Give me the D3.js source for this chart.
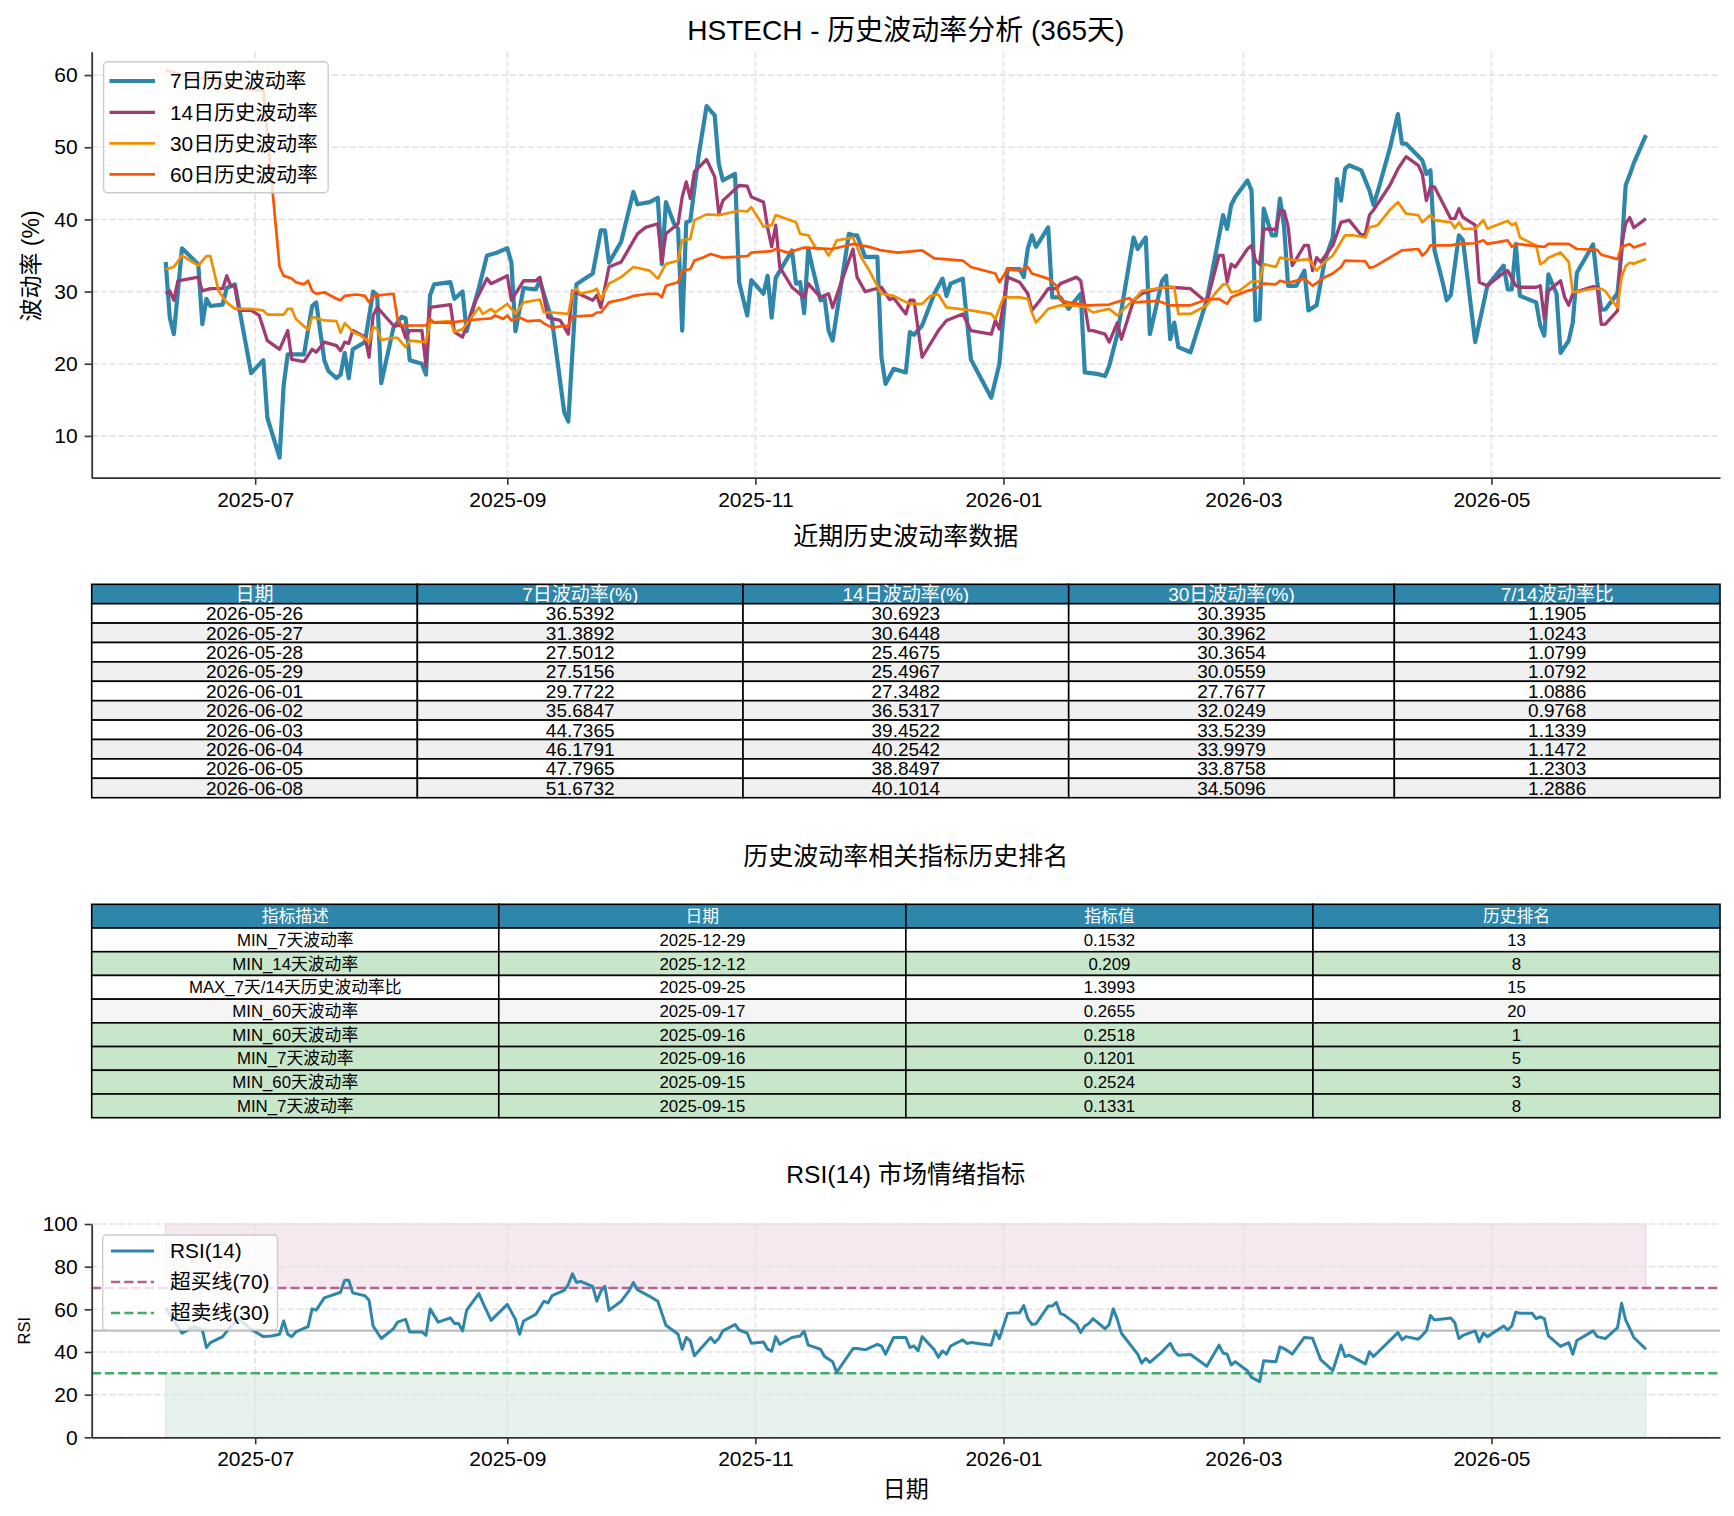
<!DOCTYPE html>
<html><head><meta charset="utf-8">
<script src="https://cdn.jsdelivr.net/npm/d3@7"></script>
<style>body{margin:0;background:#fff}svg{display:block}</style>
</head><body>
<svg id="chart" width="1734" height="1516"></svg>
<script>
// ---------------- DATA ----------------
const vol7 = [["2025-06-09",34.1],["2025-06-10",26.4],["2025-06-11",24.1],["2025-06-13",36.0],["2025-06-17",33.8],["2025-06-18",25.5],["2025-06-19",29.0],["2025-06-20",28.0],["2025-06-23",28.2],["2025-06-24",30.5],["2025-06-26",31.0],["2025-06-30",18.7],["2025-07-03",20.5],["2025-07-04",12.5],["2025-07-07",7.0],["2025-07-08",17.0],["2025-07-09",21.3],["2025-07-13",21.3],["2025-07-15",28.0],["2025-07-16",28.5],["2025-07-18",20.5],["2025-07-19",19.0],["2025-07-21",18.0],["2025-07-22",18.5],["2025-07-23",21.5],["2025-07-24",18.0],["2025-07-25",22.0],["2025-07-28",23.0],["2025-07-30",30.0],["2025-07-31",29.5],["2025-08-01",17.3],["2025-08-04",25.0],["2025-08-06",26.5],["2025-08-07",26.3],["2025-08-08",20.5],["2025-08-11",20.0],["2025-08-12",18.5],["2025-08-13",29.5],["2025-08-14",31.0],["2025-08-18",31.3],["2025-08-19",29.0],["2025-08-21",30.0],["2025-08-22",24.5],["2025-08-25",30.5],["2025-08-27",35.0],["2025-08-29",35.3],["2025-09-01",36.0],["2025-09-02",34.0],["2025-09-03",24.5],["2025-09-05",30.5],["2025-09-08",30.3],["2025-09-09",31.5],["2025-09-12",26.0],["2025-09-15",13.3],["2025-09-16",12.0],["2025-09-18",31.0],["2025-09-22",32.5],["2025-09-24",38.5],["2025-09-25",38.5],["2025-09-26",34.0],["2025-09-29",36.9],["2025-10-02",43.8],["2025-10-03",42.1],["2025-10-06",42.4],["2025-10-08",43.0],["2025-10-09",33.8],["2025-10-10",42.4],["2025-10-12",39.4],["2025-10-13",38.7],["2025-10-14",24.6],["2025-10-15",39.6],["2025-10-16",39.8],["2025-10-18",48.7],["2025-10-20",55.7],["2025-10-22",54.4],["2025-10-23",47.7],["2025-10-24",45.4],["2025-10-27",46.3],["2025-10-28",31.3],["2025-10-30",26.7],["2025-10-31",31.6],["2025-11-03",29.7],["2025-11-04",32.2],["2025-11-05",26.4],["2025-11-06",31.9],["2025-11-10",35.7],["2025-11-11",31.1],["2025-11-12",31.3],["2025-11-13",27.0],["2025-11-14",36.0],["2025-11-15",33.4],["2025-11-17",28.8],["2025-11-18",29.2],["2025-11-19",24.6],["2025-11-20",23.2],["2025-11-24",38.0],["2025-11-25",37.8],["2025-11-26",37.8],["2025-11-28",34.8],["2025-12-01",34.8],["2025-12-02",20.9],["2025-12-03",17.2],["2025-12-05",19.3],["2025-12-08",18.8],["2025-12-09",24.4],["2025-12-10",24.0],["2025-12-12",25.3],["2025-12-15",29.7],["2025-12-17",31.8],["2025-12-18",29.4],["2025-12-19",31.1],["2025-12-22",31.8],["2025-12-24",20.6],["2025-12-29",15.3],["2025-12-31",20.0],["2026-01-02",33.1],["2026-01-05",33.1],["2026-01-06",32.0],["2026-01-07",36.0],["2026-01-08",37.8],["2026-01-09",36.2],["2026-01-12",38.9],["2026-01-13",29.2],["2026-01-15",29.2],["2026-01-17",27.6],["2026-01-20",29.7],["2026-01-21",18.8],["2026-01-24",18.6],["2026-01-26",18.3],["2026-01-27",19.7],["2026-01-29",24.1],["2026-02-02",37.5],["2026-02-03",35.9],["2026-02-05",37.5],["2026-02-06",24.1],["2026-02-09",31.5],["2026-02-10",32.2],["2026-02-11",23.4],["2026-02-12",25.7],["2026-02-13",22.3],["2026-02-16",21.6],["2026-02-20",28.8],["2026-02-24",40.6],["2026-02-25",38.7],["2026-02-26",42.0],["2026-02-27",43.1],["2026-03-02",45.4],["2026-03-03",44.0],["2026-03-04",26.0],["2026-03-05",26.2],["2026-03-06",41.5],["2026-03-08",37.8],["2026-03-09",37.8],["2026-03-10",42.9],["2026-03-11",39.0],["2026-03-12",30.8],["2026-03-14",30.8],["2026-03-16",32.9],["2026-03-17",27.4],["2026-03-19",28.1],["2026-03-21",34.3],["2026-03-23",37.5],["2026-03-24",45.6],["2026-03-25",42.6],["2026-03-26",47.0],["2026-03-27",47.5],["2026-03-30",46.8],["2026-04-01",44.0],["2026-04-02",42.0],["2026-04-03",43.8],["2026-04-06",49.8],["2026-04-08",54.6],["2026-04-09",50.5],["2026-04-10",50.5],["2026-04-14",48.2],["2026-04-15",46.3],["2026-04-16",46.8],["2026-04-17",35.7],["2026-04-19",31.3],["2026-04-20",28.8],["2026-04-21",29.5],["2026-04-23",37.8],["2026-04-24",37.1],["2026-04-27",23.0],["2026-04-30",30.8],["2026-05-04",33.6],["2026-05-05",30.3],["2026-05-06",30.3],["2026-05-07",36.6],["2026-05-08",29.4],["2026-05-12",28.5],["2026-05-13",25.3],["2026-05-14",23.9],["2026-05-15",32.4],["2026-05-17",29.7],["2026-05-18",21.5],["2026-05-20",23.2],["2026-05-21",25.7],["2026-05-22",32.6],["2026-05-26",36.5392],["2026-05-27",31.3892],["2026-05-28",27.5012],["2026-05-29",27.5156],["2026-06-01",29.7722],["2026-06-02",35.6847],["2026-06-03",44.7365],["2026-06-04",46.1791],["2026-06-05",47.7965],["2026-06-08",51.6732]];

const vol14 = [["2025-06-09",29.7],["2025-06-10",30.1],["2025-06-11",28.8],["2025-06-12",31.5],["2025-06-17",32.0],["2025-06-18",30.1],["2025-06-20",30.4],["2025-06-23",30.4],["2025-06-24",32.2],["2025-06-25",30.8],["2025-06-26",30.8],["2025-06-27",27.4],["2025-06-30",27.4],["2025-07-02",26.7],["2025-07-04",23.2],["2025-07-07",22.0],["2025-07-09",24.6],["2025-07-10",20.6],["2025-07-13",20.3],["2025-07-15",22.0],["2025-07-16",21.6],["2025-07-18",23.0],["2025-07-21",22.5],["2025-07-22",21.8],["2025-07-23",23.0],["2025-07-24",22.8],["2025-07-25",24.6],["2025-07-28",23.7],["2025-07-29",20.9],["2025-07-30",26.7],["2025-07-31",27.8],["2025-08-04",25.3],["2025-08-06",25.3],["2025-08-07",23.6],["2025-08-08",24.6],["2025-08-11",24.6],["2025-08-12",19.7],["2025-08-13",27.8],["2025-08-18",28.2],["2025-08-19",24.4],["2025-08-21",23.7],["2025-08-24",28.5],["2025-08-27",31.8],["2025-08-28",31.1],["2025-09-01",32.2],["2025-09-02",28.8],["2025-09-05",31.5],["2025-09-08",31.5],["2025-09-09",32.0],["2025-09-11",26.4],["2025-09-14",26.0],["2025-09-16",24.1],["2025-09-17",30.1],["2025-09-22",28.8],["2025-09-23",29.5],["2025-09-24",27.8],["2025-09-26",33.4],["2025-09-29",34.1],["2025-10-03",38.0],["2025-10-05",38.9],["2025-10-08",39.4],["2025-10-09",34.1],["2025-10-10",38.0],["2025-10-13",39.4],["2025-10-14",43.1],["2025-10-15",45.2],["2025-10-16",42.9],["2025-10-17",46.6],["2025-10-20",48.3],["2025-10-22",45.9],["2025-10-23",40.8],["2025-10-24",42.6],["2025-10-28",44.7],["2025-10-30",44.6],["2025-10-31",43.1],["2025-11-03",42.4],["2025-11-04",38.9],["2025-11-05",36.2],["2025-11-06",39.2],["2025-11-07",33.4],["2025-11-10",30.6],["2025-11-13",29.2],["2025-11-14",31.1],["2025-11-17",29.2],["2025-11-19",29.7],["2025-11-20",27.8],["2025-11-22",31.1],["2025-11-25",35.9],["2025-11-26",32.0],["2025-11-28",30.0],["2025-12-02",30.6],["2025-12-04",28.9],["2025-12-05",29.1],["2025-12-08",26.9],["2025-12-09",28.8],["2025-12-10",28.8],["2025-12-12",20.9],["2025-12-16",24.6],["2025-12-18",26.0],["2025-12-22",26.9],["2025-12-24",24.6],["2025-12-29",24.1],["2025-12-30",26.0],["2025-12-31",24.8],["2026-01-02",32.0],["2026-01-05",31.3],["2026-01-07",29.7],["2026-01-08",27.4],["2026-01-10",28.8],["2026-01-12",30.4],["2026-01-14",30.4],["2026-01-15",31.1],["2026-01-19",32.0],["2026-01-20",31.5],["2026-01-22",24.6],["2026-01-23",24.6],["2026-01-26",24.1],["2026-01-27",23.0],["2026-01-29",25.7],["2026-01-30",23.4],["2026-02-02",28.8],["2026-02-04",29.7],["2026-02-09",30.6],["2026-02-11",30.6],["2026-02-16",30.4],["2026-02-20",28.5],["2026-02-23",35.0],["2026-02-24",35.0],["2026-02-25",31.3],["2026-02-26",33.8],["2026-02-27",33.4],["2026-03-02",35.9],["2026-03-03",36.4],["2026-03-04",34.3],["2026-03-05",33.8],["2026-03-06",38.7],["2026-03-09",38.6],["2026-03-10",41.3],["2026-03-11",41.2],["2026-03-12",39.0],["2026-03-13",33.6],["2026-03-14",34.5],["2026-03-16",36.4],["2026-03-17",36.4],["2026-03-18",32.9],["2026-03-19",34.7],["2026-03-20",34.1],["2026-03-23",36.4],["2026-03-25",39.6],["2026-03-27",39.9],["2026-03-30",37.8],["2026-03-31",38.0],["2026-04-01",40.6],["2026-04-02",41.3],["2026-04-06",44.7],["2026-04-08",47.0],["2026-04-10",48.7],["2026-04-13",47.5],["2026-04-14",46.3],["2026-04-15",42.6],["2026-04-16",44.5],["2026-04-17",44.5],["2026-04-21",40.1],["2026-04-22",40.1],["2026-04-23",41.5],["2026-04-24",40.3],["2026-04-27",39.2],["2026-04-28",31.3],["2026-04-30",30.8],["2026-05-04",32.6],["2026-05-05",32.9],["2026-05-07",30.8],["2026-05-08",30.6],["2026-05-12",30.6],["2026-05-13",30.8],["2026-05-14",26.2],["2026-05-15",30.1],["2026-05-18",31.5],["2026-05-19",29.2],["2026-05-20",28.1],["2026-05-21",29.7],["2026-05-22",30.0],["2026-05-26",30.6923],["2026-05-27",30.6448],["2026-05-28",25.4675],["2026-05-29",25.4967],["2026-06-01",27.3482],["2026-06-02",36.5317],["2026-06-03",39.4522],["2026-06-04",40.2542],["2026-06-05",38.8497],["2026-06-08",40.1014]];

const vol30 = [["2025-06-09",33.1],["2025-06-11",33.4],["2025-06-13",35.0],["2025-06-17",33.6],["2025-06-19",34.9],["2025-06-20",34.9],["2025-06-22",30.1],["2025-06-24",28.5],["2025-06-26",27.6],["2025-06-30",27.6],["2025-07-03",27.4],["2025-07-04",26.8],["2025-07-08",26.8],["2025-07-09",27.6],["2025-07-10",27.6],["2025-07-11",26.2],["2025-07-14",24.7],["2025-07-15",26.5],["2025-07-18",26.0],["2025-07-21",25.9],["2025-07-22",24.3],["2025-07-23",25.6],["2025-07-24",25.1],["2025-07-25",24.4],["2025-07-27",23.9],["2025-07-29",23.0],["2025-07-30",25.1],["2025-07-31",24.8],["2025-08-01",23.3],["2025-08-04",23.6],["2025-08-05",23.6],["2025-08-07",22.3],["2025-08-08",23.2],["2025-08-12",23.0],["2025-08-13",25.7],["2025-08-18",25.9],["2025-08-19",24.4],["2025-08-21",24.8],["2025-08-25",27.8],["2025-08-26",26.9],["2025-08-28",27.6],["2025-08-29",27.1],["2025-09-01",28.3],["2025-09-03",26.9],["2025-09-05",28.5],["2025-09-09",28.9],["2025-09-10",27.1],["2025-09-12",27.1],["2025-09-16",26.9],["2025-09-17",29.9],["2025-09-18",30.4],["2025-09-19",29.7],["2025-09-22",30.1],["2025-09-23",30.4],["2025-09-24",28.9],["2025-09-26",31.1],["2025-09-29",32.0],["2025-10-02",33.4],["2025-10-06",32.9],["2025-10-08",31.8],["2025-10-10",33.8],["2025-10-13",34.3],["2025-10-14",37.1],["2025-10-16",37.3],["2025-10-17",39.9],["2025-10-20",40.7],["2025-10-23",40.6],["2025-10-28",41.2],["2025-10-30",41.1],["2025-10-31",41.7],["2025-11-03",39.0],["2025-11-05",39.2],["2025-11-06",40.6],["2025-11-11",39.6],["2025-11-12",38.0],["2025-11-14",37.8],["2025-11-16",35.9],["2025-11-18",35.9],["2025-11-19",35.0],["2025-11-20",35.9],["2025-11-21",37.1],["2025-11-25",37.5],["2025-11-27",34.8],["2025-11-29",32.9],["2025-12-02",29.7],["2025-12-05",29.4],["2025-12-09",28.3],["2025-12-12",28.3],["2025-12-14",29.4],["2025-12-16",29.6],["2025-12-18",27.8],["2025-12-24",27.4],["2025-12-29",26.9],["2025-12-30",26.2],["2026-01-01",29.2],["2026-01-05",29.2],["2026-01-07",29.0],["2026-01-08",27.1],["2026-01-09",25.7],["2026-01-12",27.6],["2026-01-15",28.1],["2026-01-18",28.1],["2026-01-21",27.9],["2026-01-23",27.1],["2026-01-27",27.6],["2026-01-29",26.7],["2026-02-03",29.4],["2026-02-04",30.1],["2026-02-10",30.6],["2026-02-12",30.6],["2026-02-13",26.9],["2026-02-16",26.9],["2026-02-20",28.1],["2026-02-22",29.7],["2026-02-24",31.0],["2026-02-25",31.0],["2026-02-26",29.9],["2026-02-28",30.1],["2026-03-03",31.4],["2026-03-05",31.4],["2026-03-06",33.8],["2026-03-09",33.4],["2026-03-10",34.7],["2026-03-12",34.5],["2026-03-14",34.3],["2026-03-17",34.5],["2026-03-18",33.8],["2026-03-19",32.9],["2026-03-21",34.1],["2026-03-23",35.0],["2026-03-26",37.8],["2026-03-28",37.8],["2026-03-31",37.5],["2026-04-01",38.9],["2026-04-03",39.2],["2026-04-06",41.3],["2026-04-08",42.4],["2026-04-10",40.8],["2026-04-13",40.6],["2026-04-14",39.6],["2026-04-16",40.6],["2026-04-17",39.9],["2026-04-21",39.6],["2026-04-22",38.8],["2026-04-23",39.6],["2026-04-24",38.7],["2026-04-27",38.7],["2026-04-29",39.9],["2026-04-30",38.7],["2026-05-05",39.8],["2026-05-06",39.2],["2026-05-07",39.5],["2026-05-08",37.5],["2026-05-12",36.4],["2026-05-13",33.8],["2026-05-14",34.1],["2026-05-15",34.7],["2026-05-18",35.4],["2026-05-20",34.1],["2026-05-21",29.9],["2026-05-22",30.0],["2026-05-26",30.3935],["2026-05-27",30.3962],["2026-05-28",30.3654],["2026-05-29",30.0559],["2026-06-01",27.7677],["2026-06-02",32.0249],["2026-06-03",33.5239],["2026-06-04",33.9979],["2026-06-05",33.8758],["2026-06-08",34.5096]];

const vol60 = [["2025-06-09",60.7],["2025-06-10",60.5],["2025-06-13",60.1],["2025-06-17",59.7],["2025-06-22",59.1],["2025-06-24",58.3],["2025-07-03",57.8],["2025-07-07",33.4],["2025-07-08",32.2],["2025-07-10",31.8],["2025-07-11",31.3],["2025-07-13",31.0],["2025-07-14",31.5],["2025-07-15",30.1],["2025-07-16",29.7],["2025-07-18",29.9],["2025-07-21",29.0],["2025-07-22",28.8],["2025-07-23",29.4],["2025-07-26",29.6],["2025-07-28",29.4],["2025-07-29",28.5],["2025-07-30",29.4],["2025-08-04",29.7],["2025-08-05",26.2],["2025-08-06",25.3],["2025-08-12",25.3],["2025-08-13",26.2],["2025-08-14",25.7],["2025-08-18",25.7],["2025-08-22",26.0],["2025-08-26",26.2],["2025-08-28",26.3],["2025-08-29",26.7],["2025-08-31",26.2],["2025-09-01",26.7],["2025-09-02",26.0],["2025-09-04",26.4],["2025-09-06",25.9],["2025-09-09",26.0],["2025-09-10",25.6],["2025-09-12",25.0],["2025-09-15",25.24],["2025-09-16",25.18],["2025-09-17",26.55],["2025-09-22",26.7],["2025-09-23",27.1],["2025-09-24",27.1],["2025-09-26",28.5],["2025-09-30",29.0],["2025-10-02",29.4],["2025-10-06",29.7],["2025-10-08",29.7],["2025-10-09",29.2],["2025-10-10",30.8],["2025-10-13",31.3],["2025-10-14",32.9],["2025-10-16",33.1],["2025-10-17",34.3],["2025-10-19",34.7],["2025-10-21",35.2],["2025-10-24",34.7],["2025-10-30",34.9],["2025-10-31",35.4],["2025-11-05",35.6],["2025-11-06",35.9],["2025-11-09",35.4],["2025-11-13",36.1],["2025-11-20",35.9],["2025-11-25",36.6],["2025-11-29",36.2],["2025-12-02",35.7],["2025-12-06",35.4],["2025-12-12",35.7],["2025-12-15",34.6],["2025-12-22",34.3],["2025-12-24",33.4],["2025-12-30",32.5],["2025-12-31",31.3],["2026-01-02",33.1],["2026-01-05",32.9],["2026-01-07",33.4],["2026-01-08",32.5],["2026-01-12",31.8],["2026-01-14",30.8],["2026-01-15",28.8],["2026-01-17",28.5],["2026-01-22",28.1],["2026-01-27",28.2],["2026-02-01",29.1],["2026-02-02",28.5],["2026-02-08",28.7],["2026-02-11",28.1],["2026-02-16",28.1],["2026-02-20",28.9],["2026-02-23",29.0],["2026-02-25",28.3],["2026-02-26",29.2],["2026-03-02",30.1],["2026-03-04",30.4],["2026-03-06",31.1],["2026-03-09",31.0],["2026-03-10",31.5],["2026-03-12",31.2],["2026-03-16",31.8],["2026-03-18",30.8],["2026-03-21",32.0],["2026-03-23",32.5],["2026-03-25",33.4],["2026-03-26",34.3],["2026-03-31",34.2],["2026-04-01",33.3],["2026-04-02",33.4],["2026-04-09",35.7],["2026-04-13",35.9],["2026-04-14",35.0],["2026-04-15",35.5],["2026-04-16",36.4],["2026-04-21",36.4],["2026-04-23",36.6],["2026-04-27",36.7],["2026-04-29",37.1],["2026-04-30",36.6],["2026-05-05",37.1],["2026-05-06",36.2],["2026-05-07",36.6],["2026-05-14",36.2],["2026-05-15",36.6],["2026-05-20",36.6],["2026-05-22",35.9],["2026-05-27",35.8],["2026-05-28",35.1],["2026-06-01",34.5],["2026-06-02",36.2],["2026-06-04",36.6],["2026-06-05",36.1],["2026-06-08",36.7]];

const rsi14 = [["2025-06-09",60.7],["2025-06-13",48.8],["2025-06-16",51.9],["2025-06-18",50.5],["2025-06-19",42.1],["2025-06-20",44.4],["2025-06-23",47.2],["2025-06-25",52.0],["2025-06-27",55.5],["2025-06-30",50.6],["2025-07-03",47.2],["2025-07-05",47.5],["2025-07-07",48.3],["2025-07-08",54.5],["2025-07-09",48.3],["2025-07-10",47.2],["2025-07-11",49.4],["2025-07-14",51.9],["2025-07-15",60.2],["2025-07-16",59.6],["2025-07-18",65.4],["2025-07-22",68.0],["2025-07-23",73.6],["2025-07-24",73.6],["2025-07-25",67.7],["2025-07-28",66.4],["2025-07-29",64.3],["2025-07-30",52.2],["2025-08-01",46.3],["2025-08-04",50.9],["2025-08-05",54.0],["2025-08-07",55.3],["2025-08-08",49.4],["2025-08-11",49.4],["2025-08-12",47.8],["2025-08-13",60.2],["2025-08-15",54.0],["2025-08-18",56.0],["2025-08-19",53.4],["2025-08-20",53.4],["2025-08-21",49.9],["2025-08-22",59.6],["2025-08-25",67.4],["2025-08-26",63.0],["2025-08-28",54.8],["2025-09-01",62.3],["2025-09-03",55.3],["2025-09-04",48.3],["2025-09-05",54.5],["2025-09-08",57.6],["2025-09-10",63.8],["2025-09-11",63.0],["2025-09-12",66.4],["2025-09-15",68.9],["2025-09-16",71.6],["2025-09-17",76.7],["2025-09-18",72.6],["2025-09-19",73.1],["2025-09-22",70.8],["2025-09-23",63.8],["2025-09-24",68.5],["2025-09-25",70.8],["2025-09-26",59.6],["2025-09-29",63.8],["2025-10-01",68.9],["2025-10-02",72.6],["2025-10-03",69.2],["2025-10-06",66.1],["2025-10-08",63.8],["2025-10-10",52.5],["2025-10-13",48.3],["2025-10-14",41.3],["2025-10-15",46.8],["2025-10-16",45.2],["2025-10-17",38.2],["2025-10-21",46.8],["2025-10-22",44.4],["2025-10-23",46.3],["2025-10-24",49.9],["2025-10-27",52.9],["2025-10-28",50.3],["2025-10-30",48.8],["2025-10-31",44.1],["2025-11-03",44.7],["2025-11-04",41.3],["2025-11-05",40.4],["2025-11-06",47.2],["2025-11-07",43.6],["2025-11-10",46.8],["2025-11-12",47.5],["2025-11-13",49.7],["2025-11-14",43.2],["2025-11-17",41.3],["2025-11-18",37.9],["2025-11-20",35.4],["2025-11-21",30.5],["2025-11-25",41.6],["2025-11-26",41.6],["2025-11-28",41.0],["2025-12-01",43.6],["2025-12-02",42.8],["2025-12-03",39.0],["2025-12-05",46.8],["2025-12-08",46.8],["2025-12-09",42.1],["2025-12-10",42.8],["2025-12-11",40.5],["2025-12-12",47.2],["2025-12-15",41.0],["2025-12-16",37.5],["2025-12-17",40.5],["2025-12-18",39.0],["2025-12-19",42.8],["2025-12-22",45.7],["2025-12-23",44.0],["2025-12-24",44.4],["2025-12-29",43.2],["2025-12-30",49.9],["2025-12-31",46.3],["2026-01-02",58.1],["2026-01-05",58.4],["2026-01-06",61.8],["2026-01-07",55.6],["2026-01-08",52.9],["2026-01-09",53.2],["2026-01-12",61.5],["2026-01-13",61.5],["2026-01-14",63.3],["2026-01-15",58.1],["2026-01-16",57.3],["2026-01-19",52.9],["2026-01-20",49.1],["2026-01-21",52.2],["2026-01-22",53.4],["2026-01-23",55.6],["2026-01-26",50.9],["2026-01-27",52.9],["2026-01-28",60.2],["2026-01-29",55.3],["2026-01-30",48.8],["2026-02-03",39.0],["2026-02-04",34.8],["2026-02-05",37.0],["2026-02-06",35.1],["2026-02-09",40.1],["2026-02-11",44.1],["2026-02-12",40.5],["2026-02-13",38.5],["2026-02-16",38.8],["2026-02-20",33.3],["2026-02-23",43.2],["2026-02-24",39.5],["2026-02-25",39.0],["2026-02-26",33.9],["2026-02-27",35.4],["2026-03-02",31.2],["2026-03-03",28.1],["2026-03-05",26.1],["2026-03-06",35.9],["2026-03-09",35.4],["2026-03-10",42.4],["2026-03-11",41.6],["2026-03-13",39.0],["2026-03-16",46.8],["2026-03-18",46.4],["2026-03-20",36.4],["2026-03-23",31.3],["2026-03-25",43.2],["2026-03-26",37.9],["2026-03-27",38.5],["2026-03-31",34.4],["2026-04-01",40.1],["2026-04-02",37.9],["2026-04-08",49.1],["2026-04-09",45.7],["2026-04-10",47.2],["2026-04-13",46.0],["2026-04-14",47.8],["2026-04-15",49.9],["2026-04-16",57.1],["2026-04-17",55.0],["2026-04-21",55.9],["2026-04-22",53.7],["2026-04-23",46.3],["2026-04-24",47.8],["2026-04-27",49.9],["2026-04-28",44.7],["2026-04-29",48.8],["2026-04-30",47.2],["2026-05-04",52.2],["2026-05-05",50.3],["2026-05-06",52.2],["2026-05-07",58.7],["2026-05-08",58.1],["2026-05-11",58.1],["2026-05-12",55.6],["2026-05-13",56.5],["2026-05-14",55.6],["2026-05-15",47.5],["2026-05-18",42.6],["2026-05-20",44.4],["2026-05-21",38.9],["2026-05-22",45.4],["2026-05-26",49.9],["2026-05-27",47.2],["2026-05-29",46.3],["2026-06-01",51.4],["2026-06-02",62.8],["2026-06-03",55.0],["2026-06-04",51.0],["2026-06-05",46.8],["2026-06-08",41.3]];

const xTickLabels = ["2025-07","2025-09","2025-11","2026-01","2026-03","2026-05"];
const volYTicks = [10,20,30,40,50,60];
const rsiYTicks = [0,20,40,60,80,100];
const seriesNames = ["7日历史波动率","14日历史波动率","30日历史波动率","60日历史波动率"];

const recentHeader = ["日期","7日波动率(%)","14日波动率(%)","30日波动率(%)","7/14波动率比"];
const recentDates = ["2026-05-26","2026-05-27","2026-05-28","2026-05-29","2026-06-01","2026-06-02","2026-06-03","2026-06-04","2026-06-05","2026-06-08"];
const recent7 = ["36.5392","31.3892","27.5012","27.5156","29.7722","35.6847","44.7365","46.1791","47.7965","51.6732"];
const recent14 = ["30.6923","30.6448","25.4675","25.4967","27.3482","36.5317","39.4522","40.2542","38.8497","40.1014"];
const recent30 = ["30.3935","30.3962","30.3654","30.0559","27.7677","32.0249","33.5239","33.9979","33.8758","34.5096"];
const recentRatio = ["1.1905","1.0243","1.0799","1.0792","1.0886","0.9768","1.1339","1.1472","1.2303","1.2886"];

const rankHeader = ["指标描述","日期","指标值","历史排名"];
const rankDesc = ["MIN_7天波动率","MIN_14天波动率","MAX_7天/14天历史波动率比","MIN_60天波动率","MIN_60天波动率","MIN_7天波动率","MIN_60天波动率","MIN_7天波动率"];
const rankDate = ["2025-12-29","2025-12-12","2025-09-25","2025-09-17","2025-09-16","2025-09-16","2025-09-15","2025-09-15"];
const rankValue = ["0.1532","0.209","1.3993","0.2655","0.2518","0.1201","0.2524","0.1331"];
const rankPos = [13,8,15,20,1,5,3,8];

// ---------------- STYLE / LAYOUT ----------------
const FONT = "'Liberation Sans','Noto Sans CJK SC',sans-serif";
const C7 = "#2E86AB", C14 = "#A23B72", C30 = "#F18F01", C60 = "#FF5400";
const L = 91.7, R = 1720;
const ax1 = {top:51.7, bottom:477.7};
const tb1 = {top:584.3, bottom:797.7};
const tb2 = {top:904.3, bottom:1117.7};
const ax4 = {top:1224, bottom:1437.3};
const CX = (L+R)/2;

const svg = d3.select("#chart").style("font-family", FONT);
svg.append("rect").attr("width",1734).attr("height",1516).attr("fill","#fff");
const parse = d3.timeParse("%Y-%m-%d");
const parseM = d3.timeParse("%Y-%m");

const t0 = parse(vol7[0][0]), t1 = parse(vol7[vol7.length-1][0]);
const pad = (t1 - t0) * 0.05;
const x = d3.scaleTime().domain([new Date(+t0 - pad), new Date(+t1 + pad)]).range([L, R]);
const xTicks = xTickLabels.map(parseM);

function styleAxis(g){
  g.selectAll(".domain").attr("stroke","#333").attr("stroke-width",1.8);
  g.selectAll(".tick line").attr("stroke","#333").attr("stroke-width",1.6);
  g.selectAll(".tick text").attr("fill","#000").style("font-family",FONT).style("font-size","21px");
}
function grid(g, yScale, yTicks, top, bottom){
  g.selectAll(null).data(yTicks).enter().append("line")
    .attr("x1",L).attr("x2",R).attr("y1",d=>yScale(d)).attr("y2",d=>yScale(d))
    .attr("stroke","#e3e3e3").attr("stroke-width",1.6).attr("stroke-dasharray","6.2,2.7");
  g.selectAll(null).data(xTicks).enter().append("line")
    .attr("x1",d=>x(d)).attr("x2",d=>x(d)).attr("y1",top).attr("y2",bottom)
    .attr("stroke","#e3e3e3").attr("stroke-width",1.6).attr("stroke-dasharray","6.2,2.7");
}
function line(g, data, yScale, color, w, dash){
  const p = g.append("path").datum(data)
    .attr("d", d3.line().x(d=>x(parse(d[0]))).y(d=>yScale(d[1])))
    .attr("fill","none").attr("stroke",color).attr("stroke-width",w)
    .attr("stroke-linejoin","round");
  if(dash) p.attr("stroke-dasharray",dash);
  return p;
}

// ---------------- TOP CHART ----------------
svg.append("text").attr("x",CX).attr("y",40).attr("text-anchor","middle")
  .style("font-size","28px").text("HSTECH - 历史波动率分析 (365天)");

const y1 = d3.scaleLinear().domain([4.21, 63.24]).range([ax1.bottom, ax1.top]);
const g1 = svg.append("g");
grid(g1, y1, volYTicks, ax1.top, ax1.bottom);
line(g1, vol7, y1, C7, 4.2);
line(g1, vol14, y1, C14, 3.3);
line(g1, vol30, y1, C30, 2.7);
line(g1, vol60, y1, C60, 2.7);

const gx1 = svg.append("g").attr("transform",`translate(0,${ax1.bottom})`)
  .call(d3.axisBottom(x).tickValues(xTicks).tickFormat(d3.timeFormat("%Y-%m")).tickSize(7).tickSizeOuter(0).tickPadding(7));
styleAxis(gx1);
const gy1 = svg.append("g").attr("transform",`translate(${L},0)`)
  .call(d3.axisLeft(y1).tickValues(volYTicks).tickSize(7).tickSizeOuter(0).tickPadding(7));
styleAxis(gy1);
svg.append("text").attr("transform","translate(39,266) rotate(-90)").attr("text-anchor","middle")
  .style("font-size","23px").text("波动率 (%)");

// legend
const lg1 = svg.append("g");
lg1.append("rect").attr("x",103.6).attr("y",61.7).attr("width",224.6).attr("height",131).attr("rx",4)
  .attr("fill","#fff").attr("fill-opacity",0.8).attr("stroke","#cccccc").attr("stroke-width",1.4);
const legItems = [[seriesNames[0],C7,4.2],[seriesNames[1],C14,3.3],[seriesNames[2],C30,2.7],[seriesNames[3],C60,2.7]];
const legY = [81,112.3,143.3,174.3];
legItems.forEach((it,i)=>{
  lg1.append("line").attr("x1",109.5).attr("x2",155).attr("y1",legY[i]).attr("y2",legY[i])
    .attr("stroke",it[1]).attr("stroke-width",it[2]);
  lg1.append("text").attr("x",170).attr("y",legY[i]+7.3).style("font-size","20.8px").text(it[0]);
});

// ---------------- TABLES ----------------
function drawTable(box, header, rows, fills, fontSize){
  const ncol = header.length, nrow = rows.length + 1;
  const cw = (R - L) / ncol, rh = (box.bottom - box.top) / nrow;
  const g = svg.append("g");
  const all = [header].concat(rows);
  all.forEach((row, ri)=>{
    row.forEach((val, ci)=>{
      const cx0 = L + ci*cw, cy0 = box.top + ri*rh;
      g.append("rect").attr("x",cx0).attr("y",cy0).attr("width",cw).attr("height",rh)
        .attr("fill", ri===0 ? C7 : fills[ri-1]).attr("stroke","#000").attr("stroke-width",1.6);
      g.append("text").attr("x",cx0+cw/2).attr("y",cy0+rh/2).attr("dy","0.36em")
        .attr("text-anchor","middle").attr("fill", ri===0 ? "#fff" : "#000")
        .style("font-size",fontSize+"px").text(val);
    });
  });
}
svg.append("text").attr("x",CX).attr("y",544.5).attr("text-anchor","middle").style("font-size","25px").text("近期历史波动率数据");
const t1rows = recentDates.map((d,i)=>[d, recent7[i], recent14[i], recent30[i], recentRatio[i]]);
drawTable(tb1, recentHeader, t1rows, t1rows.map((r,i)=> i%2===0 ? "#ffffff" : "#f0f0f0"), 19);

svg.append("text").attr("x",CX).attr("y",864.5).attr("text-anchor","middle").style("font-size","25px").text("历史波动率相关指标历史排名");
const t2rows = rankDesc.map((d,i)=>[d, rankDate[i], rankValue[i], String(rankPos[i])]);
drawTable(tb2, rankHeader, t2rows, rankPos.map((p,i)=> p<=10 ? "#c8e6c9" : (i%2===0 ? "#ffffff" : "#f5f5f5")), 16.8);

// ---------------- RSI ----------------
svg.append("text").attr("x",CX).attr("y",1183.3).attr("text-anchor","middle").style("font-size","24.6px").text("RSI(14) 市场情绪指标");
const y4 = d3.scaleLinear().domain([0,100]).range([ax4.bottom, ax4.top]);
const g4 = svg.append("g");
const rs = parse(rsi14[0][0]), re = parse(rsi14[rsi14.length-1][0]);
g4.append("rect").attr("x",x(rs)).attr("width",x(re)-x(rs)).attr("y",y4(100)).attr("height",y4(70)-y4(100))
  .attr("fill","#f5e8ef").attr("stroke","#ead3df").attr("stroke-width",1);
g4.append("rect").attr("x",x(rs)).attr("width",x(re)-x(rs)).attr("y",y4(30)).attr("height",y4(0)-y4(30))
  .attr("fill","#e8f2ec").attr("stroke","#d5e8dc").attr("stroke-width",1);
grid(g4, y4, rsiYTicks, ax4.top, ax4.bottom);
g4.append("line").attr("x1",L).attr("x2",R).attr("y1",y4(50)).attr("y2",y4(50)).attr("stroke","#bdbdbd").attr("stroke-width",2.4);
g4.append("line").attr("x1",L).attr("x2",R).attr("y1",y4(70)).attr("y2",y4(70)).attr("stroke","#b5628e").attr("stroke-width",2.6).attr("stroke-dasharray","9.25,4");
g4.append("line").attr("x1",L).attr("x2",R).attr("y1",y4(30)).attr("y2",y4(30)).attr("stroke","#46a86c").attr("stroke-width",2.6).attr("stroke-dasharray","9.25,4");
line(g4, rsi14, y4, C7, 3.0);

const gx4 = svg.append("g").attr("transform",`translate(0,${ax4.bottom})`)
  .call(d3.axisBottom(x).tickValues(xTicks).tickFormat(d3.timeFormat("%Y-%m")).tickSize(7).tickSizeOuter(0).tickPadding(7));
styleAxis(gx4);
const gy4 = svg.append("g").attr("transform",`translate(${L},0)`)
  .call(d3.axisLeft(y4).tickValues(rsiYTicks).tickSize(7).tickSizeOuter(0).tickPadding(7));
styleAxis(gy4);
svg.append("text").attr("transform",`translate(29.5,${(ax4.top+ax4.bottom)/2}) rotate(-90)`).attr("text-anchor","middle")
  .style("font-size","16.5px").text("RSI");
svg.append("text").attr("x",CX).attr("y",1496.5).attr("text-anchor","middle").style("font-size","23px").text("日期");

const lg4 = svg.append("g");
lg4.append("rect").attr("x",102.7).attr("y",1235).attr("width",174.8).attr("height",95).attr("rx",4)
  .attr("fill","#fff").attr("fill-opacity",0.8).attr("stroke","#cccccc").attr("stroke-width",1.4);
const rsiLeg = [["RSI(14)",C7,3.0,null],["超买线(70)","#b5628e",2.6,"9.25,4"],["超卖线(30)","#46a86c",2.6,"9.25,4"]];
const rsiLegY = [1251,1282,1313];
rsiLeg.forEach((it,i)=>{
  const ln = lg4.append("line").attr("x1",111).attr("x2",154).attr("y1",rsiLegY[i]).attr("y2",rsiLegY[i])
    .attr("stroke",it[1]).attr("stroke-width",it[2]);
  if(it[3]) ln.attr("stroke-dasharray",it[3]);
  lg4.append("text").attr("x",170).attr("y",rsiLegY[i]+7.3).style("font-size","20.8px").text(it[0]);
});
</script>
</body></html>
